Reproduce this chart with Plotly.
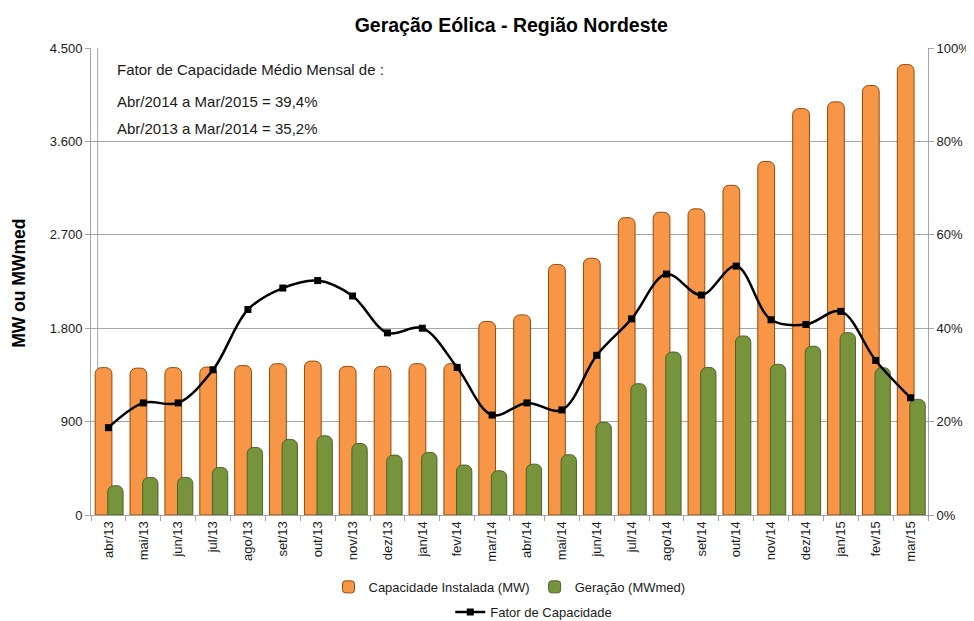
import plotly.graph_objects as go

meses = ["abr/13", "mai/13", "jun/13", "jul/13", "ago/13", "set/13", "out/13", "nov/13",
         "dez/13", "jan/14", "fev/14", "mar/14", "abr/14", "mai/14", "jun/14", "jul/14",
         "ago/14", "set/14", "out/14", "nov/14", "dez/14", "jan/15", "fev/15", "mar/15"]

capacidade_mw = [1420, 1415, 1420, 1425, 1440, 1458, 1483, 1432, 1432, 1458, 1458, 1865,
                 1928, 2414, 2474, 2865, 2917, 2950, 3177, 3407, 3916, 3981, 4139, 4340]

geracao_mwmed = [282, 362, 362, 458, 651, 728, 763, 689, 577, 603, 481, 426,
                 490, 581, 893, 1265, 1570, 1422, 1725, 1452, 1626, 1757, 1419, 1114]

fator_capacidade = [0.187, 0.240, 0.240, 0.311, 0.440, 0.486, 0.502, 0.469, 0.390, 0.400, 0.316, 0.214,
                    0.240, 0.225, 0.342, 0.420, 0.516, 0.471, 0.533, 0.418, 0.408, 0.436, 0.331, 0.251]

left_ticks = [0, 900, 1800, 2700, 3600, 4500]
right_ticks = [0, 0.2, 0.4, 0.6, 0.8, 1.0]

nota = ["Fator de Capacidade Médio Mensal de :",
        "Abr/2014 a Mar/2015 = 39,4%",
        "Abr/2013 a Mar/2014 = 35,2%"]

FONT = "Liberation Sans Narrow, Arial Narrow, Liberation Sans, Arial, sans-serif"
BOLD = "Liberation Sans, Arial, sans-serif"
GRID = "#A6A6A6"
TXT = "#1a1a1a"

fig = go.Figure()

fig.add_trace(go.Bar(
    x=meses, y=capacidade_mw, name="Capacidade Instalada (MW)",
    marker=dict(color="#F79646", line=dict(color="#984807", width=1), cornerradius=6),
    width=0.48, offset=-0.38, yaxis="y", legend="legend",
))
fig.add_trace(go.Bar(
    x=meses, y=geracao_mwmed, name="Geração (MWmed)",
    marker=dict(color="#77933C", line=dict(color="#4F6228", width=1), cornerradius=6),
    width=0.44, offset=-0.02, yaxis="y", legend="legend",
))
fig.add_trace(go.Scatter(
    x=meses, y=fator_capacidade, name="Fator de Capacidade",
    mode="lines+markers", line=dict(color="black", width=2.5, shape="spline", smoothing=1.0),
    marker=dict(symbol="square", size=7, color="black"),
    yaxis="y2", legend="legend2",
))

# page has an 8px body margin; figure is sized/offset to compensate
W, H = 966, 613
L, T = 83, 40
R = W - 920
B = H - 507
fig.update_layout(
    width=W, height=H,
    margin=dict(l=L, r=R, t=T, b=B, autoexpand=False),
    paper_bgcolor="white", plot_bgcolor="white",
    separators=",.",
    font=dict(family=FONT, size=13, color=TXT),
    title=dict(text="<b>Geração Eólica - Região Nordeste</b>", x=0.521, xanchor="center",
               y=0.972, yanchor="middle", font=dict(family=BOLD, size=19.5, color="black")),
    barmode="overlay",
    showlegend=True,
    xaxis=dict(
        type="category", tickangle=-90, tickson="boundaries", ticks="outside", ticklen=5,
        tickcolor=GRID, showline=True, linecolor=GRID, showgrid=False,
        tickfont=dict(family=FONT, size=13, color=TXT), range=[-0.5, 23.5],
    ),
    yaxis=dict(
        range=[0, 4500], tickvals=left_ticks, tickformat=",.0f", ticks="outside", ticklen=5,
        tickcolor=GRID, showline=True, linecolor=GRID, showgrid=True, gridcolor=GRID,
        zeroline=False, tickfont=dict(family=FONT, size=13, color=TXT),
    ),
    yaxis2=dict(
        range=[0, 1], tickvals=right_ticks, tickformat=".0%", overlaying="y", side="right",
        ticks="outside", ticklen=5, tickcolor=GRID, showline=True, linecolor=GRID,
        showgrid=False, zeroline=False, tickfont=dict(family=FONT, size=13, color=TXT),
    ),
    legend=dict(orientation="h", x=0.5, xanchor="center", y=-0.154, yanchor="middle",
                font=dict(family=FONT, size=13, color=TXT), bgcolor="rgba(0,0,0,0)",
                itemwidth=30, traceorder="normal"),
    legend2=dict(orientation="h", x=0.529, xanchor="center", y=-0.208, yanchor="middle",
                 font=dict(family=FONT, size=13, color=TXT), bgcolor="rgba(0,0,0,0)",
                 itemwidth=30),
)

# inner back-wall edge of the 3D chart
fig.add_shape(type="line", xref="paper", yref="y", x0=0.008, x1=0.008, y0=0, y1=4500,
              line=dict(color=GRID, width=1), layer="below")

ys = [0.953, 0.886, 0.827]
for txt, yy in zip(nota, ys):
    fig.add_annotation(text=txt, xref="paper", yref="paper", x=0.029, y=yy,
                       xanchor="left", yanchor="middle", showarrow=False,
                       font=dict(family=FONT, size=15, color=TXT))

fig.add_annotation(text="<b>MW ou MWmed</b>", xref="paper", yref="paper", x=-0.086, y=0.495,
                   xanchor="center", yanchor="middle", textangle=-90, showarrow=False,
                   font=dict(family=BOLD, size=17.5, color="black"))

fig.write_html("out.html")
